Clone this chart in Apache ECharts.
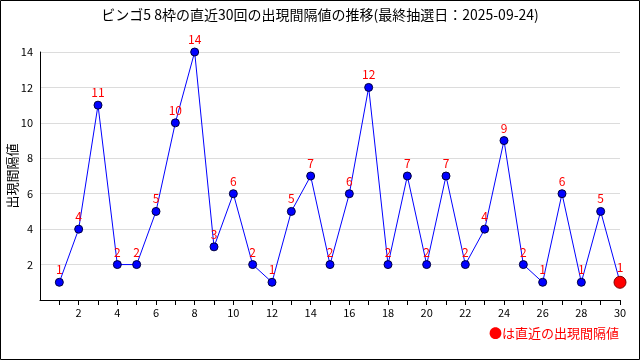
<!DOCTYPE html>
<html><head><meta charset="utf-8">
<script src="https://cdn.jsdelivr.net/npm/echarts@6/dist/echarts.min.js"></script>
<style>html,body{margin:0;padding:0;background:#fff}#c{width:640px;height:360px}</style>
</head><body><div id="c"></div>
<script>
const titleText = 'ビンゴ5 8枠の直近30回の出現間隔値の推移(最終抽選日：2025-09-24)';
const yName = '出現間隔値';
const noteText = '●は直近の出現間隔値';
const draws = [1,2,3,4,5,6,7,8,9,10,11,12,13,14,15,16,17,18,19,20,21,22,23,24,25,26,27,28,29,30];
const intervals = [1,4,11,2,2,5,10,14,3,6,2,1,5,7,2,6,12,2,7,2,7,2,4,9,2,1,6,1,5,1];
const xTickLabels = [2,4,6,8,10,12,14,16,18,20,22,24,26,28,30];
const yTickLabels = [2,4,6,8,10,12,14];
const font = '"Noto Sans CJK JP", "DejaVu Sans", sans-serif';

const pts = draws.map((d, i) => [d, intervals[i]]);
const last = pts.length - 1;
const data = pts.map((p, i) => i === last ? {
  value: p, symbolSize: 12,
  itemStyle: { color: '#ff0000', borderColor: '#800000', borderWidth: 1 }
} : { value: p });

const chart = echarts.init(document.getElementById('c'), null, { renderer: 'canvas' });
chart.setOption({
  animation: false,
  backgroundColor: '#fff',
  title: {
    text: titleText, left: 'center', top: 3,
    textStyle: { fontFamily: font, fontSize: 14, fontWeight: 'normal', color: '#000' }
  },
  grid: { left: 40, right: 20, top: 52, bottom: 60, containLabel: false, outerBoundsMode: 'none' },
  xAxis: {
    type: 'value', min: 0, max: 30, interval: 1,
    axisLine: { show: true, lineStyle: { color: '#000', width: 1 } },
    axisTick: { show: true, length: 5, customValues: draws, lineStyle: { color: '#000' } },
    axisLabel: {
      fontFamily: font, fontSize: 11, color: '#000', margin: 7,
      customValues: xTickLabels
    },
    splitLine: { show: false }
  },
  yAxis: {
    type: 'value', min: 0, max: 14, interval: 2,
    axisLine: { show: true, lineStyle: { color: '#000', width: 1 } },
    axisTick: { show: false },
    axisLabel: {
      fontFamily: font, fontSize: 11, color: '#000', margin: 7,
      customValues: yTickLabels
    },
    splitLine: { show: true, lineStyle: { color: '#dcdcdc', width: 1 } }
  },
  series: [{
    type: 'line', data: data,
    symbol: 'circle', symbolSize: 8,
    lineStyle: { color: '#0000ff', width: 1 },
    itemStyle: { color: '#0000ff', borderColor: '#000040', borderWidth: 1 },
    label: {
      show: true, position: 'top', distance: 2,
      fontFamily: font, fontSize: 12, color: '#ff0000',
      formatter: p => String(p.value[1])
    },
    z: 3
  }],
  graphic: [
    { type: 'rect', shape: { x: 0.5, y: 0.5, width: 639, height: 359 },
      style: { fill: null, stroke: '#000', lineWidth: 1 }, silent: true },
    { type: 'text', x: 12, y: 176, rotation: Math.PI / 2,
      style: { text: yName, fill: '#000', font: '13px ' + font, align: 'center', verticalAlign: 'middle' } },
    { type: 'text', right: 21, top: 327,
      style: { text: noteText, fill: '#ff0000', font: '13px ' + font } }
  ]
});
</script></body></html>
